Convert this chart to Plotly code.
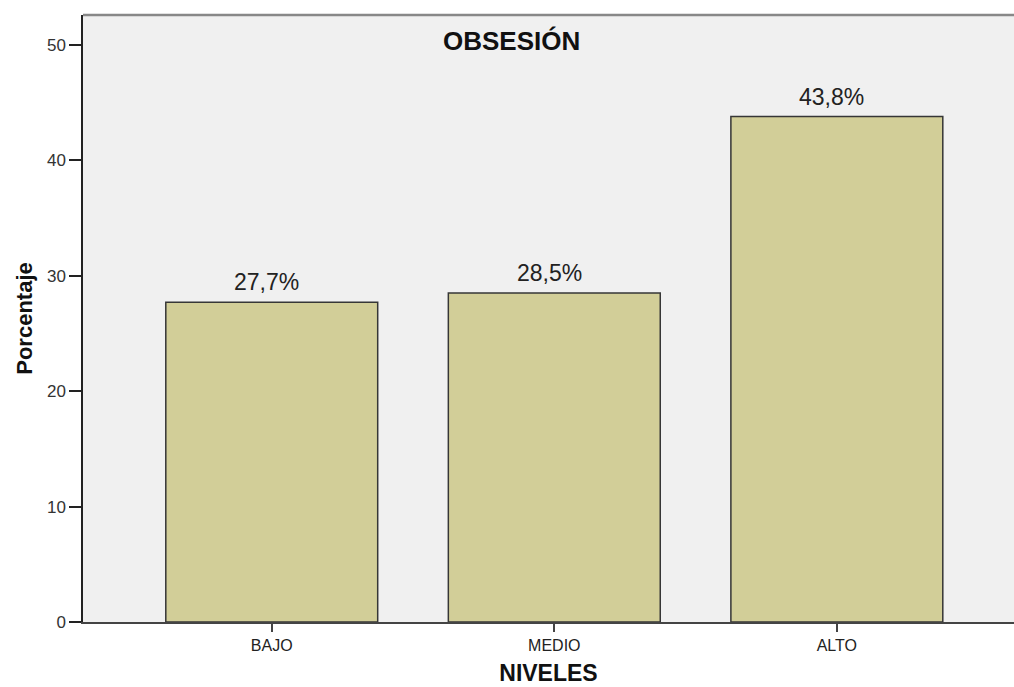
import plotly.graph_objects as go

categorias = ["BAJO", "MEDIO", "ALTO"]
porcentajes = [27.7, 28.5, 43.8]
y_ticks = [0, 10, 20, 30, 40, 50]

FONT = "Liberation Sans, Arial, sans-serif"

fig = go.Figure(
    go.Bar(
        x=categorias,
        y=porcentajes,
        marker=dict(color="#D2CE98", line=dict(color="#363636", width=1.5)),
        width=0.75,
        hoverinfo="x+y",
    )
)

# value labels above each bar, using a comma as decimal separator
etiquetas = [
    dict(
        x=c, y=v, xref="x", yref="y",
        text=f"{v:.1f}".replace(".", ",") + "%",
        showarrow=False, yanchor="bottom", yshift=5, xshift=-5,
        font=dict(family=FONT, size=23, color="#222222"),
    )
    for c, v in zip(categorias, porcentajes)
]

fig.update_layout(
    width=1014,
    height=687,
    margin=dict(l=83, r=0, t=15, b=65),
    paper_bgcolor="white",
    plot_bgcolor="#F0F0F0",
    showlegend=False,
    font=dict(family=FONT, color="#222222"),
    annotations=etiquetas + [
        dict(
            text="<b>OBSESIÓN</b>",
            x=(511 - 83) / (1014 - 83), xref="paper", xanchor="center",
            y=0.957, yref="paper", yanchor="middle",
            showarrow=False,
            font=dict(family=FONT, size=26, color="#111111"),
        )
    ],
    shapes=[
        dict(type="line", xref="paper", yref="paper", x0=0, x1=1, y0=1, y1=1,
             line=dict(color="#888888", width=2.5)),
    ],
)

fig.update_xaxes(
    range=[-0.668, 2.627],
    showgrid=False,
    showline=True, linecolor="#444444", linewidth=1.5,
    ticks="outside", ticklen=8, tickcolor="#444444", tickwidth=1.5,
    tickfont=dict(family=FONT, size=16, color="#222222"),
    title=dict(text="<b>NIVELES</b>", font=dict(family=FONT, size=23, color="#111111"), standoff=12),
)

fig.update_yaxes(
    range=[0, 52.6],
    tickvals=y_ticks,
    showgrid=False, zeroline=False,
    showline=True, linecolor="#222222", linewidth=1.5,
    ticks="outside", ticklen=12, tickcolor="#222222", tickwidth=1.5,
    tickfont=dict(family=FONT, size=17, color="#333333"),
    title=dict(text="<b>Porcentaje</b>", font=dict(family=FONT, size=22, color="#111111"), standoff=8),
)

fig.write_html("out.html")
